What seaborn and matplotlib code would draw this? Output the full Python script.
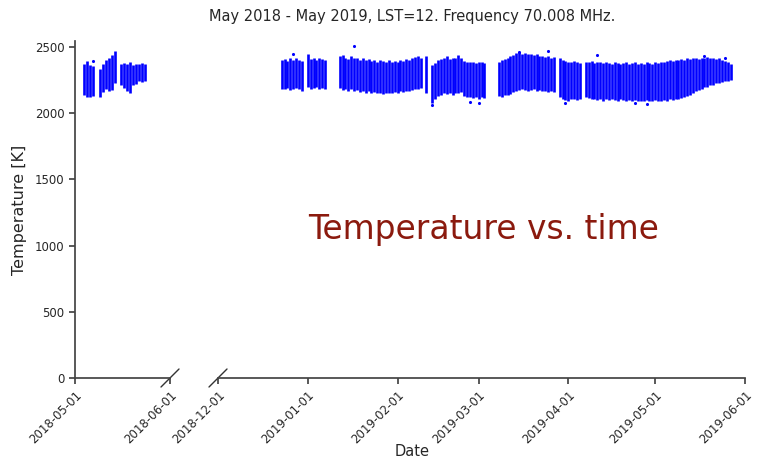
import matplotlib
matplotlib.use("Agg")
import matplotlib.pyplot as plt
import matplotlib.dates as mdates
import seaborn as sns
import pandas as pd

# ---------------- data (daily temperature range, K) ----------------
# first campaign, May 2018 (segments of consecutive days)
may_starts = ["2018-05-04", "2018-05-09", "2018-05-16"]
may_low = [
    [2140, 2120, 2125, 2130],
    [2120, 2160, 2180, 2170, 2175, 2230],
    [2210, 2190, 2170, 2150, 2210, 2220, 2240, 2235, 2245],
]
may_high = [
    [2370, 2395, 2360, 2355],
    [2330, 2370, 2400, 2415, 2440, 2470],
    [2370, 2380, 2375, 2390, 2365, 2370, 2375, 2380, 2375],
]

# second campaign, Dec 2018 - May 2019
win_starts = ["2018-12-23", "2019-01-01", "2019-01-12", "2019-02-11",
              "2019-02-13", "2019-02-22", "2019-03-08", "2019-03-29", "2019-04-07"]
win_low = [
    [2185, 2180, 2190, 2175, 2185, 2190, 2180, 2165],
    [2195, 2185, 2190, 2195, 2185, 2190, 2180],
    [2190, 2175, 2185, 2170, 2180, 2165, 2175, 2160, 2170, 2155, 2165, 2150, 2160, 2150,
     2155, 2145, 2150, 2155, 2150, 2160, 2155, 2165, 2160, 2170, 2165, 2175, 2180, 2185, 2190],
    [2155],
    [2080, 2110, 2130, 2140, 2150, 2145, 2150, 2140, 2150],
    [2150, 2160, 2130, 2125, 2120, 2115, 2125, 2110, 2120, 2115],
    [2130, 2120, 2135, 2140, 2145, 2160, 2170, 2175, 2180, 2175, 2170, 2175, 2180, 2170,
     2175, 2165, 2170, 2160, 2165, 2160],
    [2120, 2110, 2100, 2095, 2110, 2105, 2100, 2110],
    [2120, 2115, 2110, 2105, 2100, 2110, 2095, 2105, 2100, 2110, 2100, 2095, 2105, 2100,
     2095, 2100, 2090, 2100, 2095,
     2090, 2095, 2100, 2090, 2095, 2100, 2090, 2095, 2100, 2095, 2105, 2100, 2105, 2110, 2115,
     2120, 2130, 2140, 2150, 2165, 2175, 2185, 2195, 2200, 2210, 2215, 2225, 2230, 2235,
     2240, 2245, 2250],
]
win_high = [
    [2400, 2410, 2395, 2420, 2405, 2415, 2400, 2395],
    [2450, 2410, 2420, 2405, 2415, 2410, 2400],
    [2430, 2440, 2420, 2410, 2430, 2420, 2415, 2405, 2420, 2400, 2410, 2395, 2405, 2390,
     2400, 2395, 2385, 2400, 2390, 2395, 2385, 2400, 2395, 2410, 2405, 2420, 2425, 2430, 2420],
    [2430],
    [2360, 2380, 2400, 2410, 2420, 2430, 2410, 2420, 2415],
    [2440, 2420, 2395, 2390, 2385, 2390, 2380, 2385, 2390, 2380],
    [2390, 2400, 2410, 2420, 2430, 2440, 2455, 2460, 2450, 2455, 2445, 2450, 2440, 2445,
     2430, 2435, 2425, 2430, 2420, 2425],
    [2420, 2400, 2395, 2390, 2385, 2395, 2390, 2380],
    [2390, 2385, 2395, 2380, 2385, 2390, 2380, 2385, 2380, 2375, 2385, 2380, 2375, 2380,
     2385, 2375, 2380, 2385, 2375,
     2380, 2375, 2385, 2380, 2375, 2385, 2380, 2390, 2385, 2395, 2400, 2395, 2405, 2400, 2410,
     2405, 2415, 2410, 2420, 2415, 2410, 2420, 2415, 2425, 2415, 2420, 2410, 2415, 2405,
     2395, 2385, 2375],
]

# isolated points outside the daily bands
out_dates = ["2018-05-07", "2019-01-17", "2018-12-27", "2019-02-13", "2019-02-26",
             "2019-03-01", "2019-03-15", "2019-03-25", "2019-03-31", "2019-04-11",
             "2019-04-24", "2019-04-28", "2019-05-18", "2019-05-25"]
out_vals = [2395, 2505, 2447, 2065, 2085, 2080, 2465, 2470, 2080, 2440,
            2075, 2070, 2434, 2417]

title = "May 2018 - May 2019, LST=12. Frequency 70.008 MHz."
xlabel = "Date"
ylabel = "Temperature [K]"
note = "Temperature vs. time"
ticks_left = ["2018-05-01", "2018-06-01"]
ticks_right = ["2018-12-01", "2019-01-01", "2019-02-01", "2019-03-01",
               "2019-04-01", "2019-05-01", "2019-06-01"]
yticks = [0, 500, 1000, 1500, 2000, 2500]


def build(starts, lows, highs):
    rows = []
    for s, lo, hi in zip(starts, lows, highs):
        days = pd.date_range(s, periods=len(lo), freq="D")
        for d, a, b in zip(days, lo, hi):
            rows.append((d, a, b))
    return pd.DataFrame(rows, columns=["date", "low", "high"])


df_may = build(may_starts, may_low, may_high)
df_win = build(win_starts, win_low, win_high)
df_out = pd.DataFrame({"date": pd.to_datetime(out_dates), "temp": out_vals})

# ---------------- figure ----------------
sns.set_theme(style="ticks")
plt.rcParams["font.family"] = ["DejaVu Sans"]
plt.rcParams["axes.edgecolor"] = "#444444"

W, H = 757, 458
fig = plt.figure(figsize=(W / 100, H / 100), dpi=100)
ax1 = fig.add_axes([75 / W, 80 / H, 95 / W, 337 / H])
ax2 = fig.add_axes([218 / W, 80 / H, 527 / W, 337 / H])

blue = "#0000ff"
for ax, df in ((ax1, df_may), (ax2, df_win)):
    ax.vlines(df["date"], df["low"], df["high"], color=blue, lw=1.9)
    sns.scatterplot(data=df_out, x="date", y="temp", ax=ax, color=blue, s=5,
                    linewidth=0, legend=False)
    ax.set_ylim(0, 2545)
    ax.set_xlabel("")
    ax.set_ylabel("")
    ax.spines["top"].set_visible(False)
    ax.xaxis.set_major_formatter(mdates.DateFormatter("%Y-%m-%d"))
    ax.tick_params(labelsize=8.5, color="#444444", length=4)

ax1.set_xlim(pd.Timestamp("2018-05-01"), pd.Timestamp("2018-06-01"))
ax2.set_xlim(pd.Timestamp("2018-12-01"), pd.Timestamp("2019-06-01"))
ax1.set_xticks(pd.to_datetime(ticks_left))
ax2.set_xticks(pd.to_datetime(ticks_right))
ax1.set_yticks(yticks)
ax2.set_yticks([])
ax1.spines["right"].set_visible(False)
ax2.spines["left"].set_visible(False)
ax2.spines["right"].set_visible(False)
for ax in (ax1, ax2):
    plt.setp(ax.get_xticklabels(), rotation=45, ha="right", va="top",
             rotation_mode="anchor")

# break marks
kw = dict(color="#333333", lw=1, clip_on=False)
dy = 9 / 337
dx1 = 9 / 95
dx2 = 9 / 527
ax1.plot([1 - dx1, 1 + dx1], [-dy, dy], transform=ax1.transAxes, **kw)
ax2.plot([-dx2, dx2], [-dy, dy], transform=ax2.transAxes, **kw)

ax1.set_ylabel(ylabel, fontsize=11.5, labelpad=6)
fig.text(412 / W, 1 - 451 / H, xlabel, ha="center", va="center", fontsize=10.5)
fig.text(412 / W, 1 - 17 / H, title, ha="center", va="center", fontsize=10.5)
ax2.text(0.503, 0.44, note, transform=ax2.transAxes, ha="center", va="center",
         fontsize=23.7, color="#8B1A0E")

fig.savefig("out.png", dpi=100)
